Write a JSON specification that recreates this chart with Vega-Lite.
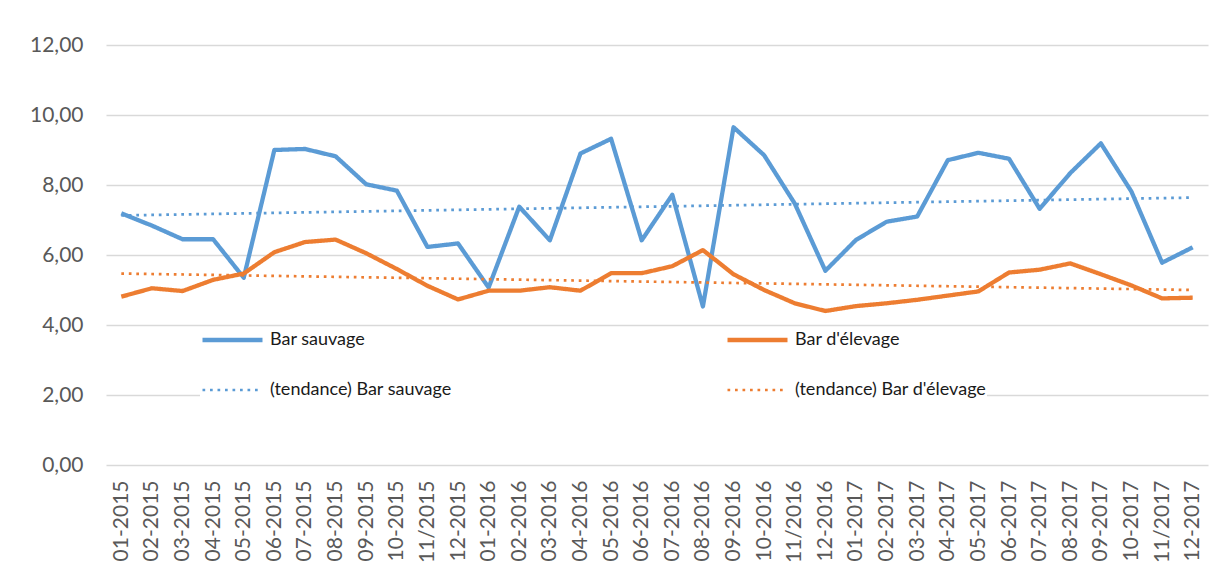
{
  "$schema": "https://vega.github.io/schema/vega-lite/v6.json",
  "width": 1102,
  "height": 420,
  "autosize": {"type": "none"},
  "padding": {"left": 106, "top": 45, "right": 14, "bottom": 105},
  "background": "white",
  "config": {
    "view": {"stroke": null},
    "font": "Lato"
  },
  "data": {
    "values": [
      {"month": "01-2015", "series": "Bar sauvage", "value": 7.19},
      {"month": "02-2015", "series": "Bar sauvage", "value": 6.84},
      {"month": "03-2015", "series": "Bar sauvage", "value": 6.45},
      {"month": "04-2015", "series": "Bar sauvage", "value": 6.45},
      {"month": "05-2015", "series": "Bar sauvage", "value": 5.35},
      {"month": "06-2015", "series": "Bar sauvage", "value": 9.0},
      {"month": "07-2015", "series": "Bar sauvage", "value": 9.03},
      {"month": "08-2015", "series": "Bar sauvage", "value": 8.82},
      {"month": "09-2015", "series": "Bar sauvage", "value": 8.02},
      {"month": "10-2015", "series": "Bar sauvage", "value": 7.84},
      {"month": "11/2015", "series": "Bar sauvage", "value": 6.23},
      {"month": "12-2015", "series": "Bar sauvage", "value": 6.33},
      {"month": "01-2016", "series": "Bar sauvage", "value": 5.07},
      {"month": "02-2016", "series": "Bar sauvage", "value": 7.38},
      {"month": "03-2016", "series": "Bar sauvage", "value": 6.42},
      {"month": "04-2016", "series": "Bar sauvage", "value": 8.9},
      {"month": "05-2016", "series": "Bar sauvage", "value": 9.32},
      {"month": "06-2016", "series": "Bar sauvage", "value": 6.42},
      {"month": "07-2016", "series": "Bar sauvage", "value": 7.72},
      {"month": "08-2016", "series": "Bar sauvage", "value": 4.53},
      {"month": "09-2016", "series": "Bar sauvage", "value": 9.65},
      {"month": "10-2016", "series": "Bar sauvage", "value": 8.85},
      {"month": "11/2016", "series": "Bar sauvage", "value": 7.47},
      {"month": "12-2016", "series": "Bar sauvage", "value": 5.55},
      {"month": "01-2017", "series": "Bar sauvage", "value": 6.43},
      {"month": "02-2017", "series": "Bar sauvage", "value": 6.95},
      {"month": "03-2017", "series": "Bar sauvage", "value": 7.1},
      {"month": "04-2017", "series": "Bar sauvage", "value": 8.71},
      {"month": "05-2017", "series": "Bar sauvage", "value": 8.92},
      {"month": "06-2017", "series": "Bar sauvage", "value": 8.75},
      {"month": "07-2017", "series": "Bar sauvage", "value": 7.32},
      {"month": "08-2017", "series": "Bar sauvage", "value": 8.34},
      {"month": "09-2017", "series": "Bar sauvage", "value": 9.19},
      {"month": "10-2017", "series": "Bar sauvage", "value": 7.81},
      {"month": "11/2017", "series": "Bar sauvage", "value": 5.78},
      {"month": "12-2017", "series": "Bar sauvage", "value": 6.22},
      {"month": "01-2015", "series": "Bar d'élevage", "value": 4.81},
      {"month": "02-2015", "series": "Bar d'élevage", "value": 5.05},
      {"month": "03-2015", "series": "Bar d'élevage", "value": 4.97},
      {"month": "04-2015", "series": "Bar d'élevage", "value": 5.29},
      {"month": "05-2015", "series": "Bar d'élevage", "value": 5.47},
      {"month": "06-2015", "series": "Bar d'élevage", "value": 6.08},
      {"month": "07-2015", "series": "Bar d'élevage", "value": 6.37},
      {"month": "08-2015", "series": "Bar d'élevage", "value": 6.44},
      {"month": "09-2015", "series": "Bar d'élevage", "value": 6.05},
      {"month": "10-2015", "series": "Bar d'élevage", "value": 5.6},
      {"month": "11/2015", "series": "Bar d'élevage", "value": 5.12},
      {"month": "12-2015", "series": "Bar d'élevage", "value": 4.73},
      {"month": "01-2016", "series": "Bar d'élevage", "value": 4.98},
      {"month": "02-2016", "series": "Bar d'élevage", "value": 4.98},
      {"month": "03-2016", "series": "Bar d'élevage", "value": 5.08},
      {"month": "04-2016", "series": "Bar d'élevage", "value": 4.98},
      {"month": "05-2016", "series": "Bar d'élevage", "value": 5.48},
      {"month": "06-2016", "series": "Bar d'élevage", "value": 5.48},
      {"month": "07-2016", "series": "Bar d'élevage", "value": 5.68},
      {"month": "08-2016", "series": "Bar d'élevage", "value": 6.14},
      {"month": "09-2016", "series": "Bar d'élevage", "value": 5.45},
      {"month": "10-2016", "series": "Bar d'élevage", "value": 5.0},
      {"month": "11/2016", "series": "Bar d'élevage", "value": 4.62},
      {"month": "12-2016", "series": "Bar d'élevage", "value": 4.4},
      {"month": "01-2017", "series": "Bar d'élevage", "value": 4.54},
      {"month": "02-2017", "series": "Bar d'élevage", "value": 4.62},
      {"month": "03-2017", "series": "Bar d'élevage", "value": 4.72},
      {"month": "04-2017", "series": "Bar d'élevage", "value": 4.84},
      {"month": "05-2017", "series": "Bar d'élevage", "value": 4.96},
      {"month": "06-2017", "series": "Bar d'élevage", "value": 5.5},
      {"month": "07-2017", "series": "Bar d'élevage", "value": 5.58},
      {"month": "08-2017", "series": "Bar d'élevage", "value": 5.76},
      {"month": "09-2017", "series": "Bar d'élevage", "value": 5.45},
      {"month": "10-2017", "series": "Bar d'élevage", "value": 5.13},
      {"month": "11/2017", "series": "Bar d'élevage", "value": 4.76},
      {"month": "12-2017", "series": "Bar d'élevage", "value": 4.78},
      {"month": "01-2015", "series": "(tendance) Bar sauvage", "value": 7.13},
      {"month": "12-2017", "series": "(tendance) Bar sauvage", "value": 7.64},
      {"month": "01-2015", "series": "(tendance) Bar d'élevage", "value": 5.47},
      {"month": "12-2017", "series": "(tendance) Bar d'élevage", "value": 5.0}
    ]
  },
  "mark": {"type": "line", "strokeJoin": "round", "strokeCap": "butt"},
  "encoding": {
    "x": {
      "field": "month",
      "type": "ordinal",
      "sort": null,
      "scale": {"type": "point", "padding": 0.5},
      "axis": {
        "title": null,
        "labelAngle": 270,
        "labelFont": "Lato",
        "labelFontSize": 21,
        "labelColor": "#595959",
        "labelPadding": 15,
        "ticks": false,
        "domain": false,
        "grid": false
      }
    },
    "y": {
      "field": "value",
      "type": "quantitative",
      "scale": {"domain": [0, 12], "nice": false},
      "axis": {
        "title": null,
        "values": [0, 2, 4, 6, 8, 10, 12],
        "labelExpr": "replace(format(datum.value, '.2f'), '.', ',')",
        "labelFont": "Lato",
        "labelFontSize": 21,
        "labelColor": "#595959",
        "labelPadding": 23,
        "ticks": false,
        "domain": false,
        "grid": true,
        "gridColor": "#d9d9d9",
        "gridWidth": 1.6
      }
    },
    "color": {
      "field": "series",
      "type": "nominal",
      "scale": {
        "domain": ["Bar sauvage", "Bar d'élevage", "(tendance) Bar sauvage", "(tendance) Bar d'élevage"],
        "range": ["#5B9BD5", "#ED7D31", "#5B9BD5", "#ED7D31"]
      },
      "legend": {
        "title": null,
        "orient": "none",
        "legendX": 94,
        "legendY": 285,
        "direction": "horizontal",
        "columns": 2,
        "symbolType": "stroke",
        "symbolSize": 3600,
        "clipHeight": 20,
        "rowPadding": 30,
        "columnPadding": 273,
        "labelFont": "Lato",
        "labelFontSize": 18,
        "labelColor": "#1a1a1a",
        "labelOffset": 5,
        "labelLimit": 400,
        "fillColor": "white",
        "padding": 0
      }
    },
    "strokeDash": {
      "field": "series",
      "type": "nominal",
      "scale": {
        "domain": ["Bar sauvage", "Bar d'élevage", "(tendance) Bar sauvage", "(tendance) Bar d'élevage"],
        "range": [[1, 0], [1, 0], [2.7, 4.8], [2.7, 4.8]]
      }
    },
    "strokeWidth": {
      "field": "series",
      "type": "nominal",
      "scale": {
        "type": "ordinal",
        "domain": ["Bar sauvage", "Bar d'élevage", "(tendance) Bar sauvage", "(tendance) Bar d'élevage"],
        "range": [4.3, 4.3, 2.7, 2.7]
      }
    }
  }
}
